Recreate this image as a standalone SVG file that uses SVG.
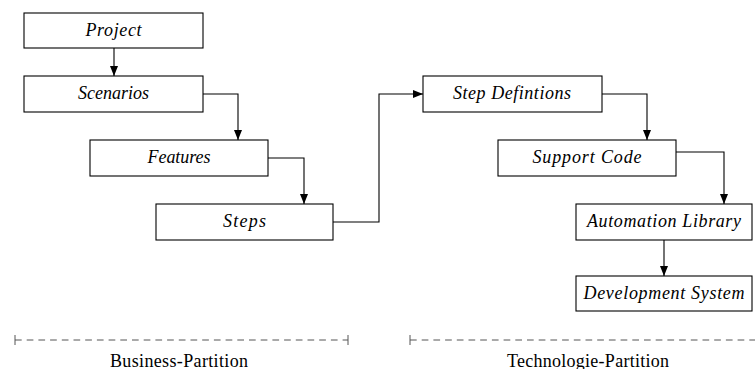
<svg xmlns="http://www.w3.org/2000/svg" width="755" height="369" viewBox="0 0 755 369">
<style>
.box{fill:#fff;stroke:#000;stroke-width:1.1}
.lbl{font-family:'Liberation Serif','Times New Roman',Times,'DejaVu Serif','Noto Serif',serif;font-style:italic;font-size:18px;fill:#000;text-anchor:middle}
.con{fill:none;stroke:#000;stroke-width:1.1}
.part{fill:none;stroke:#555;stroke-width:1}
.ptxt{font-family:'Liberation Serif','Times New Roman',Times,'DejaVu Serif','Noto Serif',serif;font-size:18px;fill:#000;text-anchor:middle}
</style>
<defs>
<marker id="ah" viewBox="0 0 10 8" refX="10" refY="4" markerWidth="10" markerHeight="8" markerUnits="userSpaceOnUse" orient="auto">
<path d="M0,0 L10,4 L0,8 Z" fill="#000"/>
</marker>
</defs>
<g id="connectors">
<path class="con" d="M114,48 V76" marker-end="url(#ah)"/>
<path class="con" d="M203,94 H238 V140" marker-end="url(#ah)"/>
<path class="con" d="M268,158 H304 V204" marker-end="url(#ah)"/>
<path class="con" d="M333,222 H379 V94 H423" marker-end="url(#ah)"/>
<path class="con" d="M602,94 H647 V140" marker-end="url(#ah)"/>
<path class="con" d="M676,152 H724 V204" marker-end="url(#ah)"/>
<path class="con" d="M664,240 V276" marker-end="url(#ah)"/>
</g>
<g id="project"><rect class="box" x="24" y="13" width="179" height="35"/><text class="lbl" x="113.5" y="35.5" textLength="56">Project</text></g>
<g id="scenarios"><rect class="box" x="24" y="76" width="179" height="36"/><text class="lbl" x="113.5" y="99" textLength="71">Scenarios</text></g>
<g id="features"><rect class="box" x="90" y="140" width="178" height="36"/><text class="lbl" x="179" y="163" textLength="63">Features</text></g>
<g id="steps"><rect class="box" x="156" y="204" width="177" height="36"/><text class="lbl" x="244.5" y="227" textLength="43">Steps</text></g>
<g id="stepdefinitions"><rect class="box" x="423" y="76" width="179" height="36"/><text class="lbl" x="512" y="99" textLength="118">Step Defintions</text></g>
<g id="supportcode"><rect class="box" x="498" y="140" width="178" height="36"/><text class="lbl" x="587" y="163" textLength="109">Support Code</text></g>
<g id="automationlibrary"><rect class="box" x="576" y="204" width="176" height="36"/><text class="lbl" x="664" y="227" textLength="154">Automation Library</text></g>
<g id="developmentsystem"><rect class="box" x="576" y="276" width="176" height="35"/><text class="lbl" x="664" y="298.5" textLength="161">Development System</text></g>
<g id="business-partition">
<path class="part" d="M15,340 H348" stroke-dasharray="6.7 5"/>
<path class="part" d="M15,335 V345 M348,335 V345"/>
<text class="ptxt" x="179" y="366.5" textLength="138">Business-Partition</text>
</g>
<g id="technologie-partition">
<path class="part" d="M410,340 H755" stroke-dasharray="6.7 5"/>
<path class="part" d="M410,335 V345"/>
<text class="ptxt" x="588" y="366.5" textLength="162">Technologie-Partition</text>
</g>
</svg>
